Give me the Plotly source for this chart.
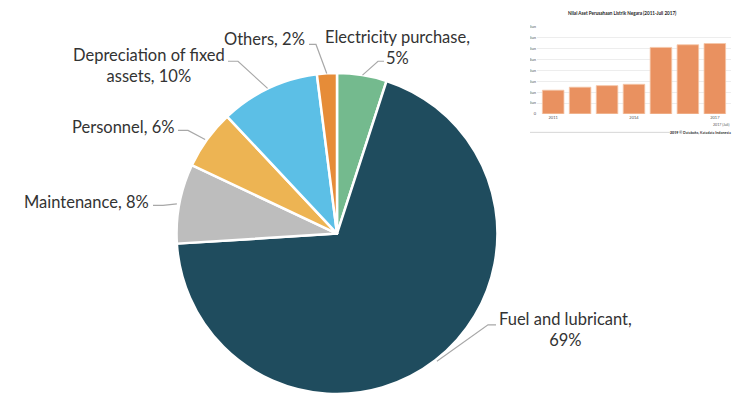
import math
import plotly.graph_objects as go

W, H = 733, 396

# Cost structure of electricity supply (share of total, %)
cost_items = ["Electricity purchase", "Fuel and lubricant", "Maintenance",
              "Personnel", "Depreciation of fixed assets", "Others"]
cost_share = [5, 69, 8, 6, 10, 2]
cost_colors = ["#74BA8E", "#1F4C5E", "#BDBDBD", "#EDB453", "#5CBFE6", "#E68C38"]

# Inset: PLN asset value (triliun rupiah)
asset_years = ["2011", "2012", "2013", "2014", "2015", "2016", "2017"]
asset_value = [436, 491, 520, 545, 1224, 1273, 1296]
asset_tickvals = [0, 200, 400, 600, 800, 1000, 1200, 1400, 1600]
asset_ticktext = ["0", "200 Triliun", "400 Triliun", "600 Triliun", "800 Triliun",
                  "1 Kuadriliun", "1,2 Kuadriliun", "1,4 Kuadriliun", "1,6 Kuadriliun"]
asset_year_labels = ["2011", "2014", "2017"]
inset_title = "Nilai Aset Perusahaan Listrik Negara (2011-Juli 2017)"
inset_note = "2017 (Juli)"
inset_source = "2019 © Databoks, Katadata Indonesia"

# pie geometry in pixels (bottom edge sits on the page edge)
CX, TOP, R = 337, 71, 163
CY = TOP + R


def px(x):
    return x / W


def py(y):
    return 1 - y / H


# label placement: text block centre, anchor, word index of line break, leader points
label_layout = {
    "Electricity purchase": dict(x=397, y=45, anchor="center", brk=2, lead=[(384, 59), (378, 59)]),
    "Fuel and lubricant": dict(x=565, y=331, anchor="center", brk=3, lead=[(496, 326), (488, 326)]),
    "Maintenance": dict(x=151, y=202, anchor="right", brk=None, lead=[(153, 205), (163, 205)]),
    "Personnel": dict(x=176, y=126, anchor="right", brk=None, lead=[(178, 129), (188, 129)]),
    "Depreciation of fixed assets": dict(x=149, y=63, anchor="center", brk=3, lead=[(228, 59), (238, 59)]),
    "Others": dict(x=307, y=36, anchor="right", brk=None, lead=[(309, 42), (316, 42)]),
}

fig = go.Figure()

fig.add_trace(go.Pie(
    labels=cost_items, values=cost_share, sort=False, direction="clockwise",
    rotation=0, textinfo="none", hoverinfo="label+percent",
    marker=dict(colors=cost_colors, line=dict(color="white", width=2.5)),
    domain=dict(x=[px(CX - R), px(CX + R)], y=[0, py(TOP)]),
    showlegend=False,
))

fig.add_trace(go.Bar(
    x=asset_years, y=asset_value, marker=dict(color="#E99160", line=dict(color="#F5C6A8", width=0.8)),
    xaxis="x", yaxis="y", showlegend=False, width=0.8,
))

annotations = []
shapes = []
text_font = dict(family="Lato, sans-serif", size=16.5, color="#333333")
total = sum(cost_share)
cum = 0
for name, val in zip(cost_items, cost_share):
    mid = (cum + val / 2) / total * 2 * math.pi
    cum += val
    ex = CX + R * math.sin(mid)
    ey = CY - R * math.cos(mid)
    spec = label_layout[name]
    words = f"{name}, {val}%".split(" ")
    if spec["brk"]:
        text = " ".join(words[:spec["brk"]]) + "<br>" + " ".join(words[spec["brk"]:])
    else:
        text = " ".join(words)
    annotations.append(dict(
        x=px(spec["x"]), y=py(spec["y"]), xref="paper", yref="paper",
        text=text, showarrow=False, xanchor=spec["anchor"], yanchor="middle",
        align="center", font=text_font,
    ))
    (tx, ty), (bx, by) = spec["lead"]
    shapes.append(dict(
        type="path", xref="paper", yref="paper",
        path=f"M {px(tx)},{py(ty)} L {px(bx)},{py(by)} L {px(ex)},{py(ey)}",
        line=dict(color="#A8A8A8", width=1.2),
    ))

# inset decorations
small = dict(family="Lato, sans-serif", color="#555555")
annotations += [
    dict(x=px(622), y=py(10), xref="paper", yref="paper", text=f"<b>{inset_title}</b>",
         showarrow=False, xanchor="center", yanchor="middle",
         font=dict(family="Lato, sans-serif", size=4.6, color="#222222")),
    dict(x=px(731), y=py(123), xref="paper", yref="paper", text=inset_note,
         showarrow=False, xanchor="right", yanchor="middle", font=dict(small, size=3.6)),
    dict(x=px(733), y=py(131), xref="paper", yref="paper", text=f"<b>{inset_source}</b>",
         showarrow=False, xanchor="right", yanchor="middle",
         font=dict(family="Lato, sans-serif", size=3.6, color="#333333")),
]
shapes += [
    dict(type="line", xref="paper", yref="paper", x0=px(530), x1=px(678), y0=py(131), y1=py(131),
         line=dict(color="#CCCCCC", width=0.8)),
    # inset picture is cropped on its left side
    dict(type="rect", xref="paper", yref="paper", x0=px(478), x1=px(530), y0=py(118), y1=py(16),
         fillcolor="white", line=dict(width=0), layer="above"),
]

fig.update_layout(
    width=W, height=H, margin=dict(l=0, r=0, t=0, b=0),
    paper_bgcolor="white", plot_bgcolor="white",
    annotations=annotations, shapes=shapes,
    bargap=0.2,
    xaxis=dict(domain=[px(537), px(731)], range=[-0.6, 6.6], type="category",
               tickvals=asset_year_labels, ticktext=asset_year_labels,
               tickfont=dict(small, size=4), showgrid=False, showline=False, ticks="",
               fixedrange=True),
    yaxis=dict(domain=[py(112.3), py(24.3)], range=[0, 1600], tickvals=asset_tickvals,
               ticktext=asset_ticktext, tickfont=dict(small, size=4), gridcolor="#EDEDED",
               gridwidth=0.6, zeroline=False, showline=False, ticks="", fixedrange=True),
)

fig.write_html("out.html")
